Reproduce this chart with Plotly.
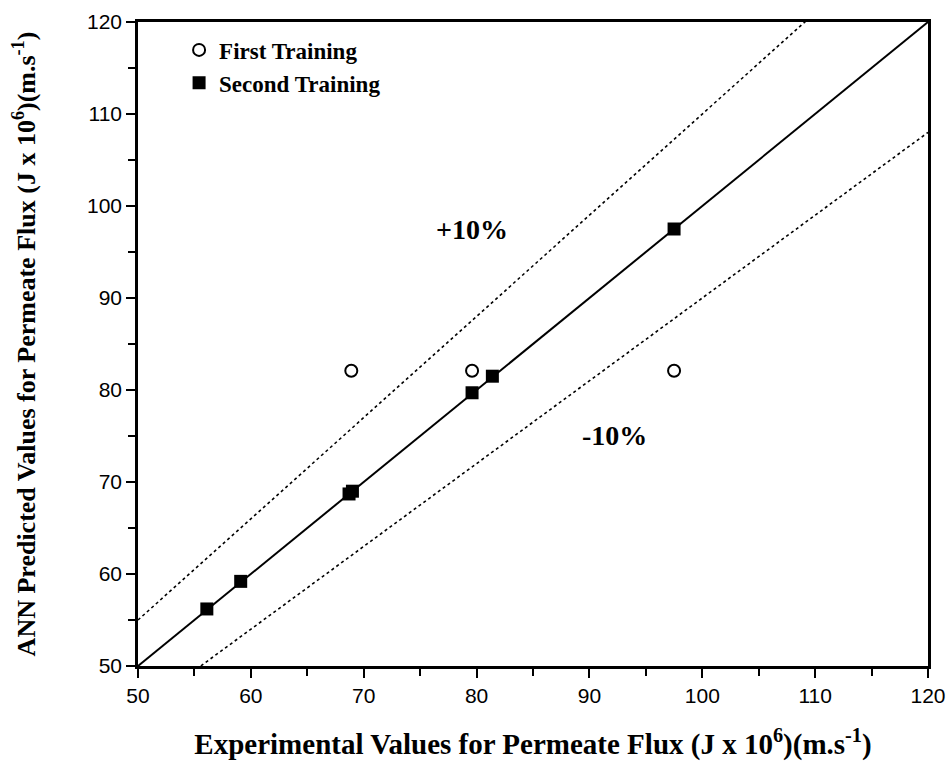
import plotly.graph_objects as go

# Data
first_x = [68.9, 79.6, 97.5]
first_y = [82.1, 82.1, 82.1]

second_x = [56.1, 59.1, 68.7, 69.0, 79.6, 81.4, 97.5]
second_y = [56.2, 59.2, 68.7, 69.0, 79.7, 81.5, 97.5]

ideal_x = [50, 120]
ideal_y = [50, 120]
band = 0.10

tick_vals = [50, 60, 70, 80, 90, 100, 110, 120]

serif = "Liberation Serif, Times New Roman, serif"
sans = "Liberation Sans, Arial, sans-serif"

fig = go.Figure()

fig.add_trace(go.Scatter(x=ideal_x, y=ideal_y, mode="lines",
                         line=dict(color="black", width=2), showlegend=False,
                         hoverinfo="skip"))
fig.add_trace(go.Scatter(x=ideal_x, y=[v * (1 + band) for v in ideal_x], mode="lines",
                         line=dict(color="black", width=1.6, dash="dot"), showlegend=False,
                         hoverinfo="skip"))
fig.add_trace(go.Scatter(x=ideal_x, y=[v * (1 - band) for v in ideal_x], mode="lines",
                         line=dict(color="black", width=1.6, dash="dot"), showlegend=False,
                         hoverinfo="skip"))

fig.add_trace(go.Scatter(x=first_x, y=first_y, mode="markers", name="<b>First Training</b>",
                         marker=dict(symbol="circle-open", size=12, color="black",
                                     line=dict(width=2, color="black"))))
fig.add_trace(go.Scatter(x=second_x, y=second_y, mode="markers", name="<b>Second Training</b>",
                         marker=dict(symbol="square", size=13, color="black")))

fig.add_annotation(x=79.6, y=97.4, text="<b>+10%</b>", showarrow=False,
                   font=dict(family=serif, size=28, color="black"))
fig.add_annotation(x=92.25, y=75.1, text="<b>-10%</b>", showarrow=False,
                   font=dict(family=serif, size=28, color="black"))

axis_common = dict(
    range=[50, 120], tickvals=tick_vals, showgrid=False, zeroline=False,
    showline=True, linewidth=2.5, linecolor="black", mirror=True,
    ticks="outside", ticklen=9, tickwidth=2, tickcolor="black",
    minor=dict(ticks="outside", dtick=5, ticklen=7, tickwidth=2, tickcolor="black"),
    tickfont=dict(family=sans, size=21, color="black"),
    automargin=False,
)

fig.update_xaxes(**axis_common,
                 title=dict(text="<b>Experimental Values for Permeate Flux (J x 10<sup>6</sup>)(m.s<sup>-1</sup>)</b>",
                            font=dict(family=serif, size=29, color="black"), standoff=28))
fig.update_yaxes(**axis_common,
                 title=dict(text="<b>ANN Predicted Values for Permeate Flux (J x 10<sup>6</sup>)(m.s<sup>-1</sup>)</b>",
                            font=dict(family=serif, size=26, color="black"), standoff=44))

fig.update_layout(
    width=951, height=763,
    margin=dict(l=138, r=23, t=22, b=97),
    plot_bgcolor="white", paper_bgcolor="white",
    legend=dict(x=0.052, y=0.990, xanchor="left", yanchor="top",
                bgcolor="rgba(0,0,0,0)", itemwidth=30,
                font=dict(family=serif, size=23, color="black"),
                tracegroupgap=0),
)

fig.write_html("out.html")
